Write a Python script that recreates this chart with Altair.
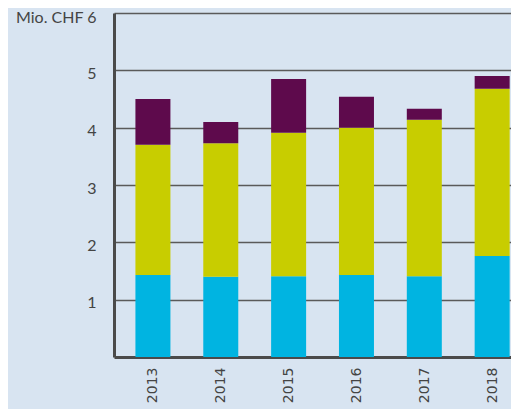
import altair as alt
import pandas as pd

years = [2013, 2014, 2015, 2016, 2017, 2018]
series = ["A", "B", "C"]
cyan = [1.43, 1.40, 1.41, 1.43, 1.41, 1.76]
yellow = [2.27, 2.33, 2.50, 2.57, 2.73, 2.92]
purple = [0.80, 0.37, 0.94, 0.54, 0.19, 0.22]
colors = ["#00b4e1", "#c8cd00", "#5e0a4c"]

rows = []
for i, y in enumerate(years):
    for s, vals in zip(series, [cyan, yellow, purple]):
        rows.append({"year": y, "series": s, "value": vals[i], "order": series.index(s)})
df = pd.DataFrame(rows)

bg = "#d8e4f1"

chart = alt.Chart(df).mark_bar(size=35, clip=True).encode(
    x=alt.X("year:Q", title=None,
            scale=alt.Scale(domain=[2012.5, 2018.204], nice=False, zero=False),
            axis=alt.Axis(values=years, format="d", labelAngle=-90, labelAlign="right",
                          labelBaseline="middle",
                          labelFont="DejaVu Sans", labelFontSize=14, labelColor="#444444",
                          labelPadding=10, ticks=False, domainColor="#4a4a4a",
                          domainWidth=3, grid=False)),
    y=alt.Y("value:Q", title=None, stack="zero",
            scale=alt.Scale(domain=[0, 6], nice=False),
            axis=alt.Axis(values=[1, 2, 3, 4, 5, 6], ticks=False, labelPadding=18,
                          labelOffset={"condition": {"test": "datum.value == 6", "value": 4},
                                       "value": 3},
                          labelFont="Lato", labelFontSize=16, labelColor="#444444",
                          labelExpr="datum.value == 6 ? 'Mio. CHF 6' : datum.label",
                          domainColor="#4a4a4a", domainWidth=3,
                          gridColor="#5a5a5a", gridWidth=1.5)),
    color=alt.Color("series:N", scale=alt.Scale(domain=series, range=colors), legend=None),
    order=alt.Order("order:Q"),
).properties(
    width=397, height=344, background=bg,
    autosize=alt.AutoSizeParams(type="none"),
    padding={"left": 106, "top": 5, "right": 0, "bottom": 52},
).configure_view(stroke=None)

chart.save("out.html", embed_options={"renderer": "svg", "actions": False})
